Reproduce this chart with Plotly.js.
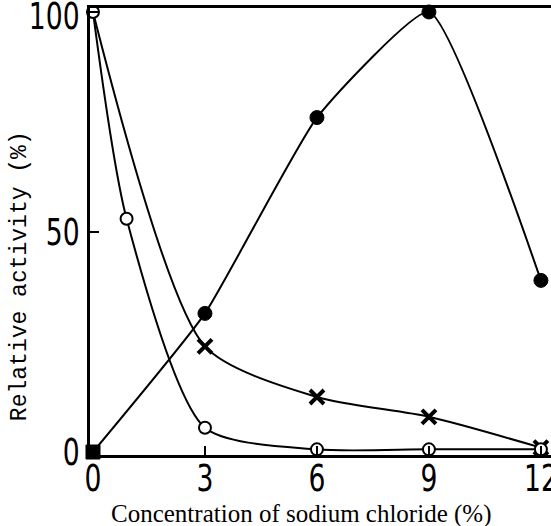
<!DOCTYPE html>
<html>
<head>
<meta charset="utf-8">
<script src="https://cdn.plot.ly/plotly-3.0.1.min.js"></script>
<style>
html,body{margin:0;padding:0;background:#fff;}
#chart{width:551px;height:526px;}
</style>
</head>
<body>
<div id="chart"></div>
<script>
// Data
const filledX = [0, 3, 6, 9, 12];
const filledY = [0, 31.5, 76, 100, 39];

const openX = [0, 0.9, 3, 6, 9, 12];
const openY = [100, 53, 5.5, 0.6, 0.6, 0.6];

const crossX = [0, 3, 6, 9, 12];
const crossY = [100, 24, 12.5, 8, 1];

const xTicks = [0, 3, 6, 9, 12];
const yTicks = [0, 50, 100];

const xTitle = 'Concentration of sodium chloride (%)';
const yTitle = 'Relative activity (%)';

const tickFont = {family: "'DejaVu Sans', sans-serif", size: 37, color: '#000'};

const traces = [
  {
    x: openX, y: openY, mode: 'lines', type: 'scatter',
    line: {color: '#000', width: 2, shape: 'spline', smoothing: 0.7},
    hoverinfo: 'skip', showlegend: false
  },
  {
    x: crossX, y: crossY, mode: 'lines', type: 'scatter',
    line: {color: '#000', width: 2, shape: 'spline', smoothing: 0.7},
    hoverinfo: 'skip', showlegend: false
  },
  {
    x: filledX, y: filledY, mode: 'lines', type: 'scatter',
    line: {color: '#000', width: 2, shape: 'spline', smoothing: 0.45},
    hoverinfo: 'skip', showlegend: false
  },
  {
    x: crossX.slice(1), y: crossY.slice(1), mode: 'markers', type: 'scatter',
    marker: {symbol: 'x-thin', size: 14, color: '#000', line: {color: '#000', width: 4}},
    cliponaxis: false, showlegend: false
  },
  {
    x: openX, y: openY, mode: 'markers', type: 'scatter',
    marker: {symbol: 'circle', size: 12, color: '#fff', line: {color: '#000', width: 2}},
    cliponaxis: false, showlegend: false
  },
  {
    x: filledX, y: filledY, mode: 'markers', type: 'scatter',
    marker: {symbol: ['square', 'circle', 'circle', 'circle', 'circle'], size: 14, color: '#000', line: {color: '#000', width: 1}},
    cliponaxis: false, showlegend: false
  }
];

const layout = {
  width: 551, height: 526,
  margin: {l: 90, r: 0, t: 8, b: 71},
  paper_bgcolor: '#fff', plot_bgcolor: '#fff',
  showlegend: false,
  xaxis: {
    range: [-0.08, 12.27],
    tickvals: xTicks, ticktext: xTicks.map(String),
    ticks: 'inside', ticklen: 9, tickwidth: 2, tickcolor: '#000',
    showline: true, linecolor: '#000', linewidth: 3, mirror: true,
    showgrid: false, zeroline: false,
    tickfont: tickFont, ticklabeloverflow: 'allow'
  },
  yaxis: {
    range: [-0.68, 100.9],
    tickvals: yTicks, ticktext: yTicks.map(String),
    ticks: 'inside', ticklen: 9, tickwidth: 2, tickcolor: '#000',
    showline: true, linecolor: '#000', linewidth: 3,
    showgrid: false, zeroline: false,
    tickfont: tickFont, ticklabeloverflow: 'allow',
    ticklabelstandoff: 0
  },
  annotations: [
    {
      text: yTitle, xref: 'paper', yref: 'paper',
      x: -0.152, y: 0.40, xanchor: 'center', yanchor: 'middle',
      textangle: -90, showarrow: false,
      font: {family: "'Liberation Mono', 'DejaVu Sans Mono', monospace", size: 23, color: '#000'}
    },
    {
      text: xTitle, xref: 'paper', yref: 'paper',
      x: 0.457, y: -0.131, xanchor: 'center', yanchor: 'middle',
      showarrow: false,
      font: {family: "'Liberation Serif', 'DejaVu Serif', serif", size: 25, color: '#000'}
    }
  ]
};

Plotly.newPlot('chart', traces, layout, {staticPlot: true, displayModeBar: false}).then(function () {
  // narrow the tick-label glyphs horizontally, like the condensed face of the original
  const sx = 0.72;
  document.querySelectorAll('#chart .xtick text, #chart .ytick text').forEach(function (t) {
    const x = parseFloat(t.getAttribute('x') || '0');
    t.setAttribute('x', String(x / sx));
    const tr = t.getAttribute('transform') || '';
    t.setAttribute('transform', tr + ' scale(' + sx + ',1)');
  });
  // the original's x-axis numbers sit closer to the axis
  document.querySelectorAll('#chart .xtick text').forEach(function (t) {
    const y = parseFloat(t.getAttribute('y') || '0');
    t.setAttribute('y', String(y - 11));
  });
  // the top y label sits a little below its tick in the original
  document.querySelectorAll('#chart .ytick text').forEach(function (t) {
    if (t.textContent === '100') {
      const y = parseFloat(t.getAttribute('y') || '0');
      t.setAttribute('y', String(y + 4));
    }
  });
});
</script>
</body>
</html>
